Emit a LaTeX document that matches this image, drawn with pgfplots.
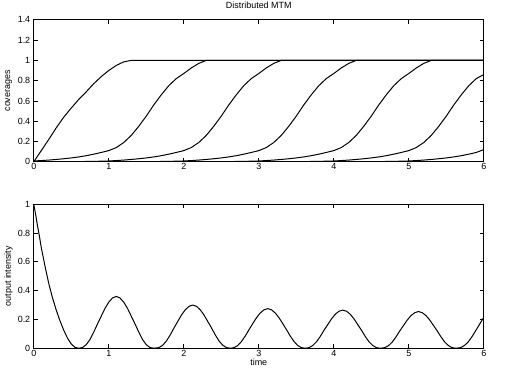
\documentclass[border=0pt]{standalone}
\usepackage{pgfplots}
\pgfplotsset{compat=1.18}
\usepackage{fontspec}
\setmainfont{Liberation Sans}
\begin{document}
\begin{tikzpicture}[x=1bp,y=1bp]
\path[use as bounding box] (0,0) rectangle (506,390);
\pgfplotsset{
  every axis/.append style={
    scale only axis, anchor=south west,
    xmin=0, xmax=6, xtick={0,1,2,3,4,5,6},
    axis line style={line width=0.8pt},
    major tick length=4bp,
    tick style={line width=0.7pt, black},
    /pgf/number format/assume math mode=true,
    tick label style={font=\fontsize{9}{10}\selectfont},
    xticklabel style={inner sep=1.5bp},
    label style={font=\fontsize{9}{10}\selectfont},
    ylabel style={at={(axis description cs:-0.056,0.5)}, anchor=center},
    cycle list={{black, solid, mark=none}},
    every axis plot post/.append style={line width=1pt, line join=round},
  }
}
\begin{axis}[at={(45,225)}, width=450bp, height=142bp,
  ymin=0, ymax=1.4, ytick={0,0.2,0.4,0.6,0.8,1,1.2,1.4},
  ylabel={coverages},
  title={Distributed MTM},
  title style={at={(axis description cs:0.5,1)}, anchor=south, inner sep=0pt, yshift=5bp, font=\fontsize{9}{10}\selectfont},
]
% curve 1
\addplot coordinates {(0,0) (0.1,0.11) (0.2,0.22) (0.3,0.335) (0.4,0.44) (0.5,0.53) (0.6,0.615) (0.7,0.69) (0.8,0.77) (0.9,0.84) (1.0,0.9) (1.1,0.95) (1.2,0.985) (1.3,1.0) (6,1.0)};
% curve 2
\addplot coordinates {(0,0.008) (0.1,0.012) (0.2,0.017) (0.3,0.023) (0.4,0.03) (0.5,0.038) (0.6,0.048) (0.7,0.06) (0.8,0.075) (0.9,0.092) (1.0,0.11) (1.1,0.14) (1.2,0.19) (1.3,0.26) (1.4,0.35) (1.5,0.45) (1.6,0.56) (1.7,0.66) (1.8,0.75) (1.9,0.82) (2.0,0.87) (2.1,0.925) (2.2,0.97) (2.3,1.0) (6,1.0)};
% curve 3
\addplot coordinates {(0,0) (0.2,0) (0.4,0.001) (0.6,0.002) (0.8,0.004) (1.0,0.008) (1.1,0.012) (1.2,0.017) (1.3,0.023) (1.4,0.03) (1.5,0.038) (1.6,0.048) (1.7,0.06) (1.8,0.075) (1.9,0.092) (2.0,0.11) (2.1,0.14) (2.2,0.19) (2.3,0.26) (2.4,0.35) (2.5,0.45) (2.6,0.56) (2.7,0.66) (2.8,0.75) (2.9,0.82) (3.0,0.87) (3.1,0.925) (3.2,0.97) (3.3,1.0) (6,1.0)};
% curve 4
\addplot coordinates {(0,0) (1.2,0) (1.4,0.001) (1.6,0.002) (1.8,0.004) (2.0,0.008) (2.1,0.012) (2.2,0.017) (2.3,0.023) (2.4,0.03) (2.5,0.038) (2.6,0.048) (2.7,0.06) (2.8,0.075) (2.9,0.092) (3.0,0.11) (3.1,0.14) (3.2,0.19) (3.3,0.26) (3.4,0.35) (3.5,0.45) (3.6,0.56) (3.7,0.66) (3.8,0.75) (3.9,0.82) (4.0,0.87) (4.1,0.925) (4.2,0.97) (4.3,1.0) (6,1.0)};
% curve 5
\addplot coordinates {(0,0) (2.2,0) (2.4,0.001) (2.6,0.002) (2.8,0.004) (3.0,0.008) (3.1,0.012) (3.2,0.017) (3.3,0.023) (3.4,0.03) (3.5,0.038) (3.6,0.048) (3.7,0.06) (3.8,0.075) (3.9,0.092) (4.0,0.11) (4.1,0.14) (4.2,0.19) (4.3,0.26) (4.4,0.35) (4.5,0.45) (4.6,0.56) (4.7,0.66) (4.8,0.75) (4.9,0.82) (5.0,0.87) (5.1,0.925) (5.2,0.97) (5.3,1.0) (6,1.0)};
% curve 6
\addplot coordinates {(0,0) (3.2,0) (3.4,0.001) (3.6,0.002) (3.8,0.004) (4.0,0.008) (4.1,0.012) (4.2,0.017) (4.3,0.023) (4.4,0.03) (4.5,0.038) (4.6,0.048) (4.7,0.06) (4.8,0.075) (4.9,0.092) (5.0,0.11) (5.1,0.14) (5.2,0.19) (5.3,0.26) (5.4,0.35) (5.5,0.45) (5.6,0.56) (5.7,0.66) (5.8,0.75) (5.9,0.82) (6.0,0.86)};
% curve 7
\addplot coordinates {(0,0) (4.2,0) (4.4,0.001) (4.6,0.002) (4.8,0.004) (5.0,0.008) (5.1,0.012) (5.2,0.017) (5.3,0.023) (5.4,0.03) (5.5,0.038) (5.6,0.048) (5.7,0.06) (5.8,0.075) (5.9,0.092) (6.0,0.12)};
\end{axis}
\begin{axis}[at={(45,29)}, width=450bp, height=144bp,
  ymin=0, ymax=1, ytick={0,0.2,0.4,0.6,0.8,1},
  ylabel={output intensity},
  xlabel={time},
  xlabel style={at={(axis description cs:0.5,-0.1)}, anchor=center},
]
\addplot coordinates {(0,1.0) (0.025,0.93) (0.05,0.85) (0.075,0.78) (0.1,0.70) (0.15,0.57) (0.2,0.45) (0.25,0.35) (0.3,0.265) (0.35,0.19) (0.4,0.125) (0.45,0.07) (0.5,0.03) (0.55,0.006) (0.6,0)
(0.65,0.005) (0.7,0.025) (0.75,0.061) (0.8,0.112) (0.85,0.169) (0.9,0.223) (0.95,0.277) (1.0,0.320) (1.05,0.349) (1.1,0.36) (1.15,0.349) (1.2,0.320) (1.25,0.277) (1.3,0.223) (1.35,0.169) (1.4,0.112) (1.45,0.061) (1.5,0.025) (1.55,0.005) (1.6,0)
(1.67,0.0045) (1.72,0.021) (1.77,0.051) (1.82,0.093) (1.87,0.141) (1.92,0.186) (1.97,0.231) (2.02,0.267) (2.07,0.291) (2.12,0.30) (2.17,0.291) (2.22,0.267) (2.27,0.231) (2.32,0.186) (2.37,0.141) (2.42,0.093) (2.47,0.051) (2.52,0.021) (2.57,0.0045) (2.62,0)
(2.67,0.004) (2.72,0.019) (2.77,0.047) (2.82,0.085) (2.87,0.129) (2.92,0.171) (2.97,0.212) (3.02,0.245) (3.07,0.267) (3.12,0.275) (3.17,0.267) (3.22,0.245) (3.27,0.212) (3.32,0.171) (3.37,0.129) (3.42,0.085) (3.47,0.047) (3.52,0.019) (3.57,0.004) (3.62,0)
(3.67,0.004) (3.72,0.019) (3.77,0.045) (3.82,0.082) (3.87,0.125) (3.92,0.164) (3.97,0.204) (4.02,0.236) (4.07,0.257) (4.12,0.265) (4.17,0.257) (4.22,0.236) (4.27,0.204) (4.32,0.164) (4.37,0.125) (4.42,0.082) (4.47,0.045) (4.52,0.019) (4.57,0.004) (4.62,0)
(4.68,0.004) (4.73,0.018) (4.78,0.043) (4.83,0.079) (4.88,0.12) (4.93,0.158) (4.98,0.196) (5.03,0.227) (5.08,0.247) (5.13,0.255) (5.18,0.247) (5.23,0.227) (5.28,0.196) (5.33,0.158) (5.38,0.12) (5.43,0.079) (5.48,0.043) (5.53,0.018) (5.58,0.004) (5.63,0)
(5.69,0.004) (5.74,0.018) (5.79,0.042) (5.84,0.078) (5.89,0.12) (5.94,0.163) (6.0,0.215)};
\end{axis}
\end{tikzpicture}
\end{document}
